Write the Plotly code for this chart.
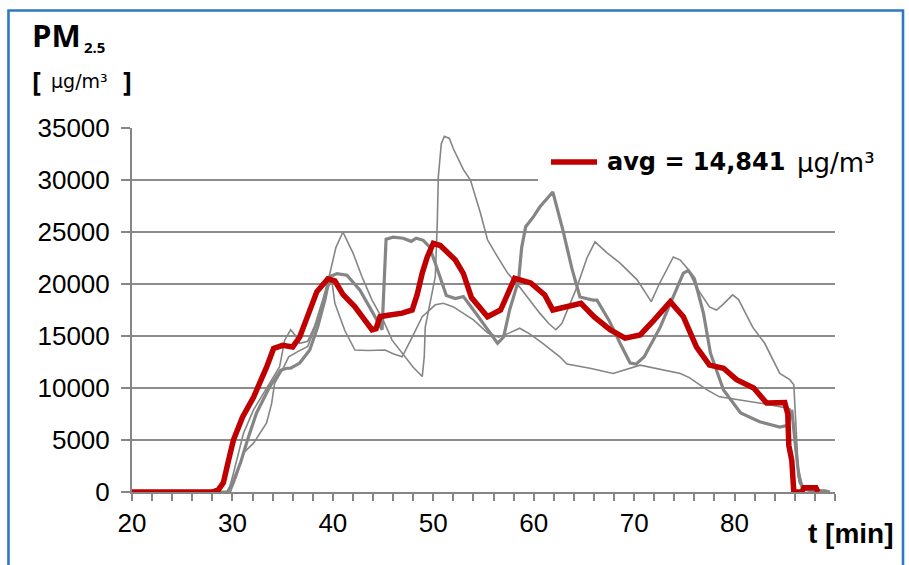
import plotly.graph_objects as go

# ---- PM2.5 concentration over time [min] -> [ug/m3] ----
t_avg = [20, 28.0, 28.6, 29.1, 29.6, 30.1, 31.0, 32.1, 33.4, 34.1, 35.0, 36.0, 36.7, 37.4, 38.4,
         39.5, 40.2, 41.0, 42.2, 43.2, 43.9, 44.3, 44.7, 45.5, 46.9, 47.9, 48.4, 48.9, 49.4, 50.0,
         50.7, 52.2, 53.0, 53.8, 55.4, 56.7, 58.1, 59.7, 61.1, 61.9, 63.1, 64.7, 66.0, 67.6, 69.1,
         70.6, 72.0, 73.6, 74.9, 76.2, 77.5, 78.9, 80.2, 81.9, 83.2, 84.5, 85.0, 85.3, 85.4, 85.7,
         85.9, 86.7, 86.9, 88.1, 88.3]
pm_avg = [0, 0, 200, 900, 3000, 5000, 7200, 9100, 12000, 13800, 14100, 13950, 14900, 16850, 19250,
          20500, 20300, 19000, 17800, 16500, 15600, 15700, 16850, 17000, 17200, 17500, 19000, 21050, 22600, 23900,
          23700, 22300, 21000, 18700, 16850, 17500, 20550, 20100, 18950, 17500, 17800, 18150, 16850, 15600, 14800,
          15100, 16550, 18300, 16850, 13950, 12200, 11900, 10800, 10000, 8550, 8650, 8600, 7500, 4500, 3000,
          0, 0, 400, 400, 0]

# run 1 (thick grey)
t_run1 = [20, 29.5, 30.0, 30.5, 30.8, 31.5, 32.4, 33.7, 34.8, 35.4, 35.8, 36.7, 37.7, 38.5, 39.2,
          39.7, 40.4, 41.4, 42.7, 44.0, 44.9, 45.1, 45.3, 46.0, 47.0, 47.8, 48.3, 49.0, 49.6, 50.2,
          50.9, 51.3, 52.2, 53.0, 54.0, 55.4, 56.4, 57.0, 57.6, 58.5, 58.8, 59.2, 60.0, 60.6, 61.9,
          62.9, 63.8, 64.6, 65.9, 66.3, 67.5, 68.6, 69.6, 70.2, 71.0, 72.6, 73.9, 74.9, 75.4, 76.0,
          76.9, 77.6, 78.9, 80.6, 82.5, 83.5, 84.5, 85.3, 85.7, 86.0, 86.4, 86.8, 87.5, 89.0, 89.5]
pm_run1 = [0, 0, 800, 2000, 2800, 5000, 7600, 10100, 11700, 11900, 11900, 12400, 13650, 15900, 18450,
           20700, 21000, 20850, 19400, 17200, 15600, 20000, 24300, 24500, 24400, 24100, 24400, 24200, 23600, 22000,
           20100, 18900, 18600, 18800, 17500, 15600, 14300, 14900, 17500, 20400, 23500, 25500, 26500, 27400, 28850,
           25200, 21500, 18750, 18450, 18450, 16500, 14300, 12400, 12300, 13000, 15850, 18750, 21050, 21300, 20500,
           17200, 13350, 9800, 7600, 6750, 6500, 6250, 6400, 7900, 5000, 1500, 300, 150, 100, 0]

# run 2 (thin grey, highest peak)
t_run2 = [20, 29.6, 30.1, 31.1, 32.1, 33.1, 34.7, 35.2, 35.8, 36.3, 36.7, 37.5, 38.2, 39.0, 39.7,
          40.3, 41.0, 42.0, 42.9, 43.9, 45.0, 45.9, 46.9, 48.0, 48.9, 49.1, 49.2, 49.7, 50.2, 50.4,
          50.5, 50.8, 51.1, 51.6, 52.0, 53.0, 53.7, 54.7, 55.4, 56.4, 57.4, 58.6, 59.6, 60.6, 61.5,
          62.2, 62.8, 64.3, 65.3, 66.1, 67.3, 68.6, 70.3, 71.7, 72.5, 73.9, 74.6, 75.3, 76.2, 77.5,
          78.2, 78.8, 79.8, 80.4, 81.8, 83.0, 84.5, 85.5, 85.9, 86.2, 86.4, 86.8, 88.5, 89.5]
pm_run2 = [0, 0, 1800, 5650, 7900, 9500, 12050, 14600, 15600, 15000, 14300, 14500, 16000, 18500, 21000,
           23500, 25000, 23000, 20700, 18450, 16550, 14600, 13350, 12000, 11100, 13000, 15850, 18150, 20700, 26000,
           30300, 33500, 34200, 34000, 33000, 31000, 30000, 26800, 24250, 22600, 21050, 19700, 18400, 17200, 16200,
           15600, 16200, 19700, 22500, 24050, 23000, 22000, 20400, 18300, 20000, 22600, 22300, 21500, 19700, 17800,
           17500, 18000, 18950, 18500, 15850, 14300, 11400, 10800, 10300, 5000, 1000, 200, 100, 0]

# run 3 (thin grey, lowest trace)
t_run3 = [20, 29.8, 30.4, 31.1, 32.1, 33.4, 33.9, 34.2, 35.0, 35.6, 36.5, 37.5, 38.5, 39.5, 39.9,
          40.2, 41.2, 42.2, 43.5, 45.2, 46.0, 46.9, 47.9, 48.9, 50.2, 51.0, 52.0, 54.0, 55.4, 56.5,
          57.6, 58.6, 59.6, 60.9, 62.6, 63.3, 65.6, 67.9, 70.6, 72.5, 74.6, 75.5, 77.3, 78.5, 80.0,
          81.8, 83.5, 84.5, 85.5, 85.8, 86.2, 86.8, 88.0, 89.5]
pm_run3 = [0, 0, 1500, 3750, 4700, 6650, 8500, 10450, 11800, 13000, 13500, 14000, 16500, 19700, 20300,
           18150, 15500, 13650, 13600, 13650, 13300, 13000, 14900, 16850, 18000, 18150, 17800, 16550, 15300, 14900,
           15300, 15750, 15200, 14300, 13000, 12300, 11900, 11400, 12200, 11800, 11400, 11000, 9800, 9150, 8900,
           8650, 8400, 8200, 8000, 7000, 3000, 300, 100, 0]

x_ticks = [20, 30, 40, 50, 60, 70, 80]
y_ticks = [0, 5000, 10000, 15000, 20000, 25000, 30000, 35000]

GREY = "#858585"
RED = "#c00000"
AXIS_FONT = "Liberation Sans, Arial, sans-serif"
WIDE_FONT = "DejaVu Sans, Verdana, sans-serif"
TITLE_FONT = "Open Sans, sans-serif"

fig = go.Figure()
fig.add_trace(go.Scatter(x=t_run2, y=pm_run2, mode="lines", line=dict(color=GREY, width=1.6)))
fig.add_trace(go.Scatter(x=t_run3, y=pm_run3, mode="lines", line=dict(color=GREY, width=1.6)))
fig.add_trace(go.Scatter(x=t_run1, y=pm_run1, mode="lines", line=dict(color=GREY, width=3.2)))
fig.add_trace(go.Scatter(x=t_avg, y=pm_avg, mode="lines", line=dict(color=RED, width=5.5)))

# plot area: x 132..835 px, y 128..492 px
L, R, T, B = 132, 74, 128, 73
W, H = 909 - L - R, 565 - T - B


def px(x):
    return (x - L) / W


def py(y):
    return (565 - B - y) / H


shapes = [
    # blue frame round the whole chart
    dict(type="rect", xref="paper", yref="paper", x0=px(8.5), x1=px(903), y0=py(10.5), y1=py(575),
         line=dict(color="#2f78c4", width=2.6), fillcolor="rgba(0,0,0,0)", layer="above"),
    # legend box
    dict(type="rect", xref="paper", yref="paper", x0=px(538), x1=px(842), y0=py(187), y1=py(140),
         line=dict(width=0), fillcolor="white", layer="above"),
    dict(type="line", xref="paper", yref="paper", x0=px(551), x1=px(597), y0=py(162), y1=py(162),
         line=dict(color=RED, width=5.5), layer="above"),
]

annotations = [
    dict(text="<b>avg\u00a0=\u00a014,841</b>", x=px(605), y=py(162),
         font=dict(family=WIDE_FONT, size=24, color="black")),
    dict(text="μg/m³", x=px(795), y=py(163),
         font=dict(family=WIDE_FONT, size=26, color="black")),
    dict(text="<b>PM</b>", x=px(30), y=py(35), font=dict(family=TITLE_FONT, size=31, color="black")),
    dict(text="<b>2.5</b>", x=px(82), y=py(47), font=dict(family=TITLE_FONT, size=15, color="black")),
    dict(text="<b>[</b>", x=px(30), y=py(80), font=dict(family=TITLE_FONT, size=27, color="black")),
    dict(text="μg/m³", x=px(49), y=py(81), font=dict(family=WIDE_FONT, size=19, color="black")),
    dict(text="<b>]</b>", x=px(121), y=py(80), font=dict(family=TITLE_FONT, size=27, color="black")),
    dict(text="<b>t [min]</b>", x=px(896), y=py(533), xanchor="right",
         font=dict(family=AXIS_FONT, size=28, color="black")),
]
for a in annotations:
    a.setdefault("xanchor", "left")
    a.update(xref="paper", yref="paper", yanchor="middle", showarrow=False)

fig.update_layout(
    width=909, height=565,
    margin=dict(l=L, r=R, t=T, b=B, pad=0),
    paper_bgcolor="white", plot_bgcolor="white",
    showlegend=False,
    shapes=shapes,
    annotations=annotations,
    font=dict(family=AXIS_FONT, size=26, color="black"),
)
fig.update_xaxes(
    range=[20, 90], tickvals=x_ticks, ticktext=[str(v) for v in x_ticks],
    showgrid=False, zeroline=False,
    showline=True, linecolor=GREY, linewidth=2,
    ticks="outside", ticklen=7, tickwidth=1.6, tickcolor=GREY,
    minor=dict(dtick=2, tick0=20, ticks="outside", ticklen=7, tickwidth=1.6, tickcolor=GREY, showgrid=False),
    tickfont=dict(family=AXIS_FONT, size=26),
)
fig.update_yaxes(
    range=[0, 35000], tickvals=y_ticks, ticktext=[str(v) for v in y_ticks],
    showgrid=True, gridcolor="#8c8c8c", gridwidth=1.6, zeroline=False,
    showline=True, linecolor=GREY, linewidth=2,
    ticks="outside", ticklen=9, tickwidth=1.6, tickcolor=GREY,
    tickfont=dict(family=AXIS_FONT, size=26),
    ticklabelstandoff=6,
)

fig.write_html("out.html")
